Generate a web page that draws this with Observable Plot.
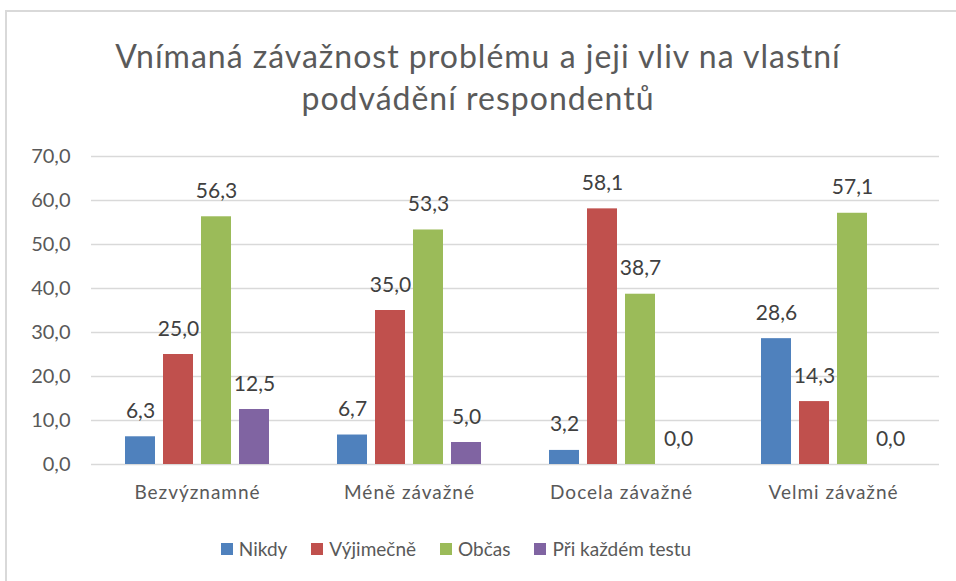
<!DOCTYPE html>
<html>
<head>
<meta charset="utf-8">
<script src="https://cdn.jsdelivr.net/npm/d3@7"></script>
<script src="https://cdn.jsdelivr.net/npm/@observablehq/plot@0.6"></script>
<style>
  html, body { margin: 0; padding: 0; background: #fff; }
  body { width: 956px; height: 581px; overflow: hidden; position: relative; font-family: Lato, "Noto Sans", sans-serif; }
  #frame { position: absolute; left: 5px; top: 10px; width: 1000px; height: 1000px; border-top: 2px solid #d9d9d9; border-left: 2px solid #d9d9d9; box-sizing: border-box; }
  #title { position: absolute; left: 0; top: 35px; width: 956px; text-align: center; font-size: 32px; line-height: 42px; letter-spacing: 1px; color: #5a5a5a; }
  #chart { position: absolute; left: 0; top: 130px; }
  #chart g[aria-label="fx-axis tick label"] text { letter-spacing: 1px; }
  #legend { position: absolute; left: 0; top: 537px; width: 956px; display: flex; justify-content: center; gap: 24px; font-size: 19px; line-height: 24px; color: #595959; padding-right: 44px; box-sizing: border-box; }
  #legend span.item { display: flex; align-items: center; }
  #legend span.sw { display: inline-block; width: 12px; height: 12px; margin-right: 6px; }
</style>
</head>
<body>
<div id="frame"></div>
<div id="title">Vnímaná závažnost problému a jeji vliv na vlastní<br>podvádění respondentů</div>
<div id="chart"></div>
<div id="legend"></div>
<script>
const categories = ["Bezvýznamné", "Méně závažné", "Docela závažné", "Velmi závažné"];
const series = ["Nikdy", "Výjimečně", "Občas", "Při každém testu"];
const colors = ["#4f81bd", "#c0504d", "#9bbb59", "#8064a2"];
const nikdy = [6.3, 6.7, 3.2, 28.6];
const vyjimecne = [25.0, 35.0, 58.1, 14.3];
const obcas = [56.3, 53.3, 38.7, 57.1];
const priKazdem = [12.5, 5.0, 0.0, 0.0];
const yTicks = [0, 10, 20, 30, 40, 50, 60, 70];

const values = [nikdy, vyjimecne, obcas, priKazdem];
const data = categories.flatMap((c, i) => series.map((s, j) => ({cat: c, ser: s, val: values[j][i]})));
const fmt = v => d3.format(".1f")(v).replace(".", ",");

const chart = Plot.plot({
  width: 956,
  height: 380,
  marginTop: 26,
  marginBottom: 46,
  marginLeft: 90,
  marginRight: 16,
  style: {fontFamily: "Lato, 'Noto Sans', sans-serif", color: "#595959", background: "transparent"},
  fx: {domain: categories, padding: 0, label: null},
  x: {domain: series, axis: null, paddingInner: 0.2, paddingOuter: 0.85},
  y: {domain: [0, 70], label: null, axis: null},
  color: {domain: series, range: colors},
  marks: [
    Plot.ruleY(yTicks, {stroke: "#d9d9d9", strokeWidth: 1.5}),
    Plot.barY(data, {fx: "cat", x: "ser", y: "val", fill: "ser"}),
    Plot.text(data, {fx: "cat", x: "ser", y: "val", text: d => fmt(d.val), lineAnchor: "bottom", dy: -19, fontSize: 21, fill: "#404040"}),
    Plot.axisY(yTicks, {tickSize: 0, tickPadding: 21, tickFormat: fmt, fontSize: 20, fill: "#595959", label: null}),
    Plot.axisFx({anchor: "bottom", tickSize: 0, tickPadding: 21, fontSize: 19, fill: "#595959", label: null})
  ]
});
document.getElementById("chart").appendChild(chart);

const legend = document.getElementById("legend");
series.forEach((s, i) => {
  const item = document.createElement("span");
  item.className = "item";
  const sw = document.createElement("span");
  sw.className = "sw";
  sw.style.background = colors[i];
  item.appendChild(sw);
  item.appendChild(document.createTextNode(s));
  legend.appendChild(item);
});
</script>
</body>
</html>
